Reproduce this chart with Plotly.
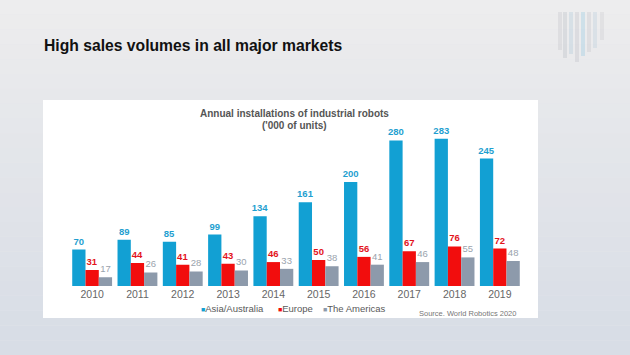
import plotly.graph_objects as go

years = ["2010", "2011", "2012", "2013", "2014", "2015", "2016", "2017", "2018", "2019"]
asia = [70, 89, 85, 99, 134, 161, 200, 280, 283, 245]
europe = [31, 44, 41, 43, 46, 50, 56, 67, 76, 72]
americas = [17, 26, 28, 30, 33, 38, 41, 46, 55, 48]
series_names = ["Asia/Australia", "Europe", "The Americas"]

W, H = 630, 355
FONT = "Liberation Sans, Arial, sans-serif"
bar_colors = ["#12a0d3", "#f20d0d", "#8d9aab"]
text_colors = ["#1f9fd0", "#e3131b", "#9aa3ad"]
bold_flags = [True, True, False]

fig = go.Figure()
for name, vals, col, tcol, bold in zip(series_names, [asia, europe, americas],
                                        bar_colors, text_colors, bold_flags):
    fig.add_trace(go.Bar(
        x=years, y=vals, name=name, marker=dict(color=col, line=dict(width=0)),
        text=[f"<b>{v}</b>" if bold else str(v) for v in vals],
        textposition="outside", cliponaxis=False, constraintext="none",
        textfont=dict(color=tcol, size=9.5, family=FONT), showlegend=False,
    ))

def px(x): return x / W
def py(y): return 1 - y / H

shapes = []
# background gradient bands
top = (237, 237, 238)
bot = (216, 221, 230)
n = 24
for i in range(n):
    t = i / (n - 1)
    c = tuple(int(top[k] + (bot[k] - top[k]) * t) for k in range(3))
    shapes.append(dict(type="rect", xref="paper", yref="paper", x0=0, x1=1,
                       y0=py(H * (i + 1) / n), y1=py(H * i / n),
                       fillcolor="rgb(%d,%d,%d)" % c, line=dict(width=0), layer="below"))
# white panel
shapes.append(dict(type="rect", xref="paper", yref="paper", x0=px(43), x1=px(538),
                   y0=py(318), y1=py(100), fillcolor="white", line=dict(width=0), layer="below"))
# faint logo lines
for xx, hh, cc in [(558, 38, "rgba(150,150,160,0.15)"), (563, 46, "rgba(140,150,160,0.18)"),
                   (569, 42, "rgba(120,170,200,0.18)"), (575, 50, "rgba(150,150,160,0.17)"),
                   (581, 44, "rgba(100,180,220,0.22)"), (587, 40, "rgba(150,150,160,0.15)"),
                   (593, 36, "rgba(120,170,200,0.15)"), (600, 28, "rgba(150,150,160,0.12)")]:
    shapes.append(dict(type="rect", xref="paper", yref="paper", x0=px(xx), x1=px(xx + 4),
                       y0=py(12 + hh), y1=py(12), fillcolor=cc, line=dict(width=0), layer="below"))

annotations = [
    dict(text="<b>High sales volumes in all major markets</b>", x=px(42), y=py(45),
         xref="paper", yref="paper", xanchor="left", yanchor="middle", showarrow=False,
         font=dict(size=15.7, color="#111111", family=FONT)),
    dict(text="<b>Annual installations of industrial robots</b>", x=px(294), y=py(113),
         xref="paper", yref="paper", xanchor="center", yanchor="middle", showarrow=False,
         font=dict(size=10, color="#555555", family=FONT)),
    dict(text="<b>('000 of units)</b>", x=px(294), y=py(126),
         xref="paper", yref="paper", xanchor="center", yanchor="middle", showarrow=False,
         font=dict(size=10, color="#555555", family=FONT)),
    dict(text="Source. World Robotics 2020", x=px(518), y=py(313),
         xref="paper", yref="paper", xanchor="right", yanchor="middle", showarrow=False,
         font=dict(size=7.5, color="#777777", family=FONT)),
]
# custom compact legend
for name, col, lx in zip(series_names, bar_colors, [199, 276, 321]):
    annotations.append(dict(
        text="<span style='color:%s;font-size:7px'>■</span>%s" % (col, name),
        x=px(lx), y=py(308), xref="paper", yref="paper", xanchor="left", yanchor="middle",
        showarrow=False, font=dict(size=9.5, color="#595959", family=FONT)))

fig.update_layout(
    width=W, height=H, margin=dict(l=0, r=0, t=0, b=0),
    paper_bgcolor="#e6e7ea", plot_bgcolor="rgba(0,0,0,0)",
    barmode="group", bargap=0.12, bargroupgap=0,
    shapes=shapes, annotations=annotations,
    showlegend=False,
    xaxis=dict(domain=[px(69.5), px(522.5)], showgrid=False, zeroline=False, showline=False,
               ticks="", tickfont=dict(size=10.5, color="#666666", family=FONT),
               ticklabelstandoff=0),
    yaxis=dict(domain=[py(286), py(130)], range=[0, 300], visible=False, showgrid=False),
)

fig.write_html("out.html", config={"displayModeBar": False},
               post_script="document.body.style.margin='0';document.body.style.background='#e6e7ea';")
